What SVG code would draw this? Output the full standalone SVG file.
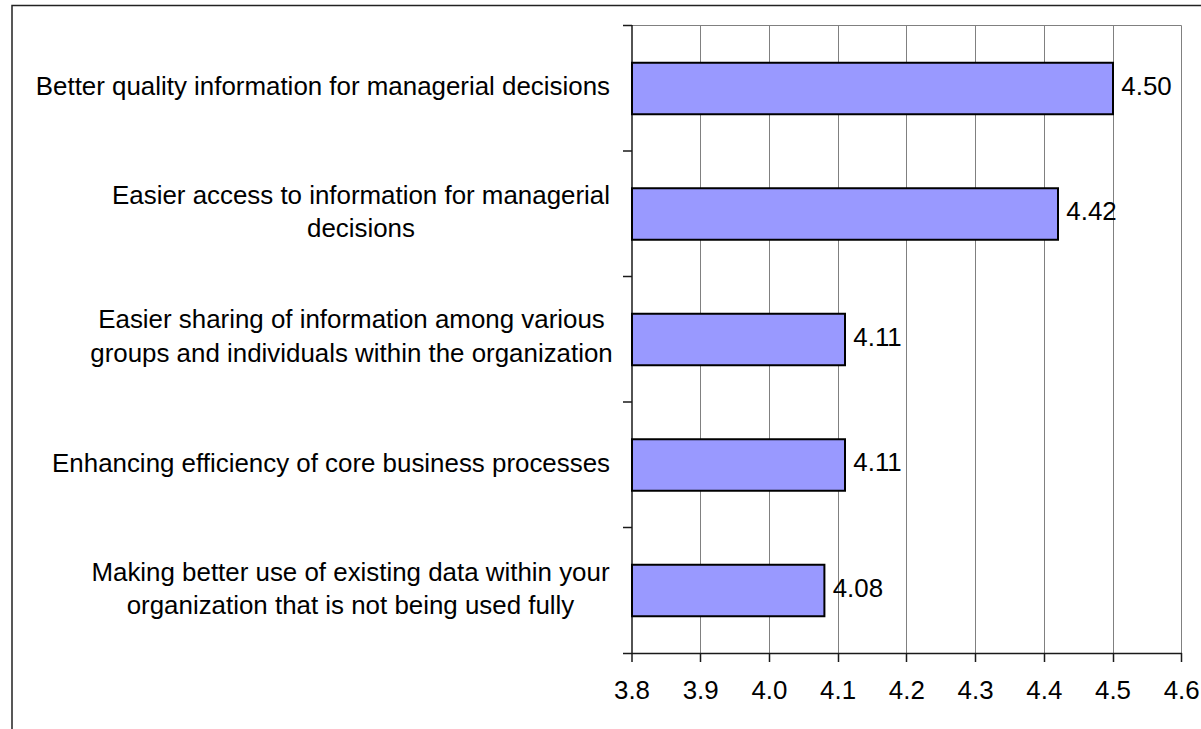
<svg xmlns="http://www.w3.org/2000/svg" width="1201" height="729" viewBox="0 0 1201 729">
  <style>
    text { font-family: "Liberation Sans", Arial, sans-serif; font-size: 25.9px; fill: #000; }
    .cat { text-anchor: middle; }
    .catEnd { text-anchor: end; }
    .tick { text-anchor: middle; }
    .grid { stroke: #808080; stroke-width: 1; fill: none; }
    .axis { stroke: #1a1a1a; stroke-width: 1.5; fill: none; }
    .bar { fill: #9999FF; stroke: #000; stroke-width: 2; }
  </style>
  <rect x="0" y="0" width="1201" height="729" fill="#fff"/>
  <rect x="12" y="5.5" width="1200" height="740" fill="#fff" stroke="#222" stroke-width="1.5"/>

  <g id="gridlines">
    <line class="grid" x1="632" y1="25.5" x2="1181.5" y2="25.5"/>
    <line class="grid" x1="700.5" y1="25.5" x2="700.5" y2="653"/>
    <line class="grid" x1="769.5" y1="25.5" x2="769.5" y2="653"/>
    <line class="grid" x1="838.5" y1="25.5" x2="838.5" y2="653"/>
    <line class="grid" x1="906.5" y1="25.5" x2="906.5" y2="653"/>
    <line class="grid" x1="975.5" y1="25.5" x2="975.5" y2="653"/>
    <line class="grid" x1="1044.5" y1="25.5" x2="1044.5" y2="653"/>
    <line class="grid" x1="1113.5" y1="25.5" x2="1113.5" y2="653"/>
    <line class="grid" x1="1181.5" y1="25.5" x2="1181.5" y2="653"/>
  </g>

  <g id="axes">
    <line class="axis" x1="632" y1="25" x2="632" y2="662"/>
    <line class="axis" x1="623" y1="653.5" x2="1182" y2="653.5"/>
    <line class="axis" x1="623" y1="25.5" x2="632" y2="25.5"/>
    <line class="axis" x1="623" y1="151" x2="632" y2="151"/>
    <line class="axis" x1="623" y1="276.5" x2="632" y2="276.5"/>
    <line class="axis" x1="623" y1="402" x2="632" y2="402"/>
    <line class="axis" x1="623" y1="527.5" x2="632" y2="527.5"/>
    <line class="axis" x1="700.5" y1="653" x2="700.5" y2="662"/>
    <line class="axis" x1="769.5" y1="653" x2="769.5" y2="662"/>
    <line class="axis" x1="838.5" y1="653" x2="838.5" y2="662"/>
    <line class="axis" x1="906.5" y1="653" x2="906.5" y2="662"/>
    <line class="axis" x1="975.5" y1="653" x2="975.5" y2="662"/>
    <line class="axis" x1="1044.5" y1="653" x2="1044.5" y2="662"/>
    <line class="axis" x1="1113.5" y1="653" x2="1113.5" y2="662"/>
    <line class="axis" x1="1181.5" y1="653" x2="1181.5" y2="662"/>
  </g>

  <g id="tick-labels">
    <text class="tick" x="632" y="699">3.8</text>
    <text class="tick" x="700.7" y="699">3.9</text>
    <text class="tick" x="769.4" y="699">4.0</text>
    <text class="tick" x="838.1" y="699">4.1</text>
    <text class="tick" x="906.8" y="699">4.2</text>
    <text class="tick" x="975.6" y="699">4.3</text>
    <text class="tick" x="1044.3" y="699">4.4</text>
    <text class="tick" x="1113" y="699">4.5</text>
    <text class="tick" x="1181.7" y="699">4.6</text>
  </g>

  <g id="bar1">
    <rect class="bar" x="632" y="62.75" width="481" height="51.5"/>
    <text x="1121.3" y="94.5">4.50</text>
    <text class="catEnd" x="610" y="95">Better quality information for managerial decisions</text>
  </g>
  <g id="bar2">
    <rect class="bar" x="632" y="188.25" width="426" height="51.5"/>
    <text x="1066.3" y="220">4.42</text>
    <text class="cat" x="361" y="203.5">Easier access to information for managerial</text>
    <text class="cat" x="361" y="237">decisions</text>
  </g>
  <g id="bar3">
    <rect class="bar" x="632" y="313.75" width="213" height="51.5"/>
    <text x="853.3" y="345.5">4.11</text>
    <text class="cat" x="351.5" y="328">Easier sharing of information among various</text>
    <text class="cat" x="351.5" y="362">groups and individuals within the organization</text>
  </g>
  <g id="bar4">
    <rect class="bar" x="632" y="439.25" width="213" height="51.5"/>
    <text x="853.3" y="471">4.11</text>
    <text class="catEnd" x="610" y="471.5">Enhancing efficiency of core business processes</text>
  </g>
  <g id="bar5">
    <rect class="bar" x="632" y="564.75" width="192.4" height="51.5"/>
    <text x="832.7" y="596.5">4.08</text>
    <text class="cat" x="350.5" y="581">Making better use of existing data within your</text>
    <text class="cat" x="350.5" y="614">organization that is not being used fully</text>
  </g>
</svg>
